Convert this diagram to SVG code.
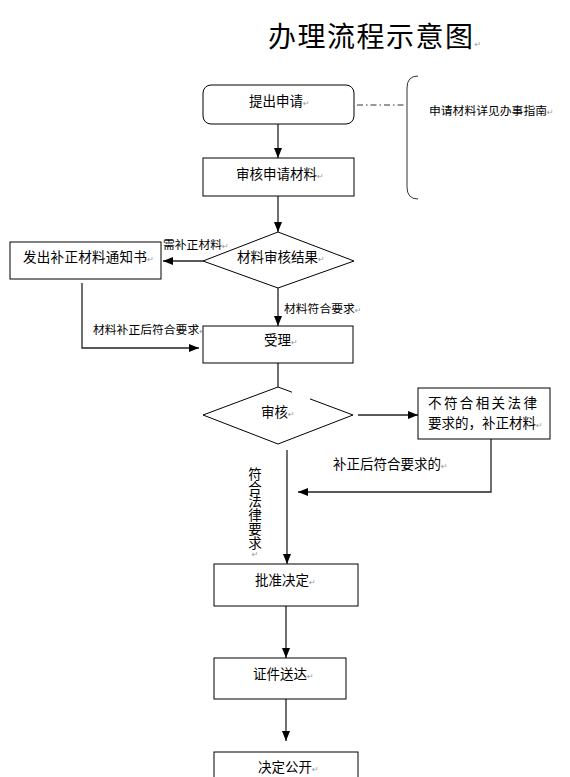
<svg xmlns="http://www.w3.org/2000/svg" width="570" height="777" viewBox="0 0 570 777">
<style>
  .box { fill: #fff; stroke: #000; stroke-width: 1; }
  .t { font-family: "Noto Sans CJK SC", "Noto Sans", sans-serif; font-size: 13.5px; fill: #000; }
  .s { font-family: "Noto Sans CJK SC", "Noto Sans", sans-serif; font-size: 11.8px; fill: #000; }
  .pm { font-family: "DejaVu Sans", sans-serif; font-size: 8px; fill: #999; }
  .ln { fill: none; stroke: #222; stroke-width: 1.3; }
  .title { font-family: "Noto Sans CJK SC", serif; font-size: 28px; fill: #000; letter-spacing: 1.5px; }
</style>
<defs>
  <marker id="ah" markerUnits="userSpaceOnUse" markerWidth="10" markerHeight="10" viewBox="0 0 10 10" refX="10" refY="5" orient="auto">
    <path d="M0,1 L10,5 L0,9 Z" fill="#000"/>
  </marker>
</defs>
<rect width="570" height="777" fill="#fff"/>

<text class="title" x="268" y="47">办理流程示意图<tspan class="pm" font-size="10px">↵</tspan></text>

<g id="connectors">
  <line class="ln" x1="278" y1="124" x2="278" y2="158" marker-end="url(#ah)"/>
  <line class="ln" x1="278" y1="196" x2="278" y2="232" marker-end="url(#ah)"/>
  <line class="ln" x1="203" y1="261" x2="163" y2="261" marker-end="url(#ah)"/>
  <line class="ln" x1="278" y1="288" x2="278" y2="326" marker-end="url(#ah)"/>
  <polyline class="ln" points="82,283 82,348 199,348" marker-end="url(#ah)"/>
  <line class="ln" x1="278" y1="363" x2="278" y2="387"/>
  <line class="ln" x1="358" y1="415" x2="418" y2="415" marker-end="url(#ah)"/>
  <polyline class="ln" points="491,439 491,492 298,492" marker-end="url(#ah)"/>
  <line class="ln" x1="287" y1="450" x2="287" y2="564" marker-end="url(#ah)"/>
  <line class="ln" x1="286" y1="606" x2="286" y2="658" marker-end="url(#ah)"/>
  <line class="ln" x1="286" y1="699" x2="286" y2="741" marker-end="url(#ah)"/>
  <line x1="357" y1="105" x2="406" y2="105" stroke="#333" stroke-width="1" stroke-dasharray="6,3,1.5,3"/>
  <text class="s" x="163" y="249">需补正材料<tspan class="pm">↵</tspan></text>
  <text class="s" x="284" y="313" font-size="11.5px">材料符合要求<tspan class="pm">↵</tspan></text>
  <text class="s" x="93" y="334">材料补正后符合要求<tspan class="pm">↵</tspan></text>
  <text class="t" x="333" y="469">补正后符合要求的<tspan class="pm">↵</tspan></text>
  <text class="t" x="255" y="467" font-size="13px" writing-mode="vertical-rl" style="text-orientation: upright;" letter-spacing="0.3px">符合法律要求<tspan class="pm">↵</tspan></text>
</g>

<g id="n-submit">
  <rect class="box" x="203" y="85" width="151" height="39" rx="8"/>
  <text class="t" x="249" y="106">提出申请<tspan class="pm">↵</tspan></text>
</g>

<g id="n-guide">
  <path d="M418,76 Q407,76 407,88 L407,187 Q407,199 418,199" fill="none" stroke="#333" stroke-width="1"/>
  <text class="s" x="429" y="115">申请材料详见办事指南<tspan class="pm">↵</tspan></text>
</g>

<g id="n-review-materials">
  <rect class="box" x="203" y="158" width="151" height="38"/>
  <text class="t" x="236" y="179">审核申请材料<tspan class="pm">↵</tspan></text>
</g>

<g id="n-result">
  <polygon class="box" points="278,232 354,261 278,288 203,261"/>
  <text class="t" x="237" y="262">材料审核结果<tspan class="pm">↵</tspan></text>
</g>

<g id="n-notice">
  <rect class="box" x="10" y="242" width="151" height="37"/>
  <text class="t" x="23" y="262" letter-spacing="0.3px">发出补正材料通知书<tspan class="pm">↵</tspan></text>
</g>

<g id="n-accept">
  <rect class="box" x="203" y="326" width="150" height="37"/>
  <text class="t" x="264" y="345">受理<tspan class="pm">↵</tspan></text>
</g>

<g id="n-audit">
  <path d="M310,398.9 L353,415 L278,444 L203,415 L278,387 L292,392.2" fill="#fff" stroke="#000" stroke-width="1"/>
  <text class="t" x="261" y="417">审核<tspan class="pm">↵</tspan></text>
</g>

<g id="n-nonconform">
  <rect class="box" x="418" y="388" width="132" height="51"/>
  <text class="t" x="428" y="408" letter-spacing="2.4px">不符合相关法律</text>
  <text class="t" x="428" y="428">要求的，补正材料<tspan class="pm">↵</tspan></text>
</g>

<g id="n-approve">
  <rect class="box" x="214" y="564" width="144" height="42"/>
  <text class="t" x="255" y="585">批准决定<tspan class="pm">↵</tspan></text>
</g>

<g id="n-deliver">
  <rect class="box" x="214" y="658" width="132" height="41"/>
  <text class="t" x="253" y="679">证件送达<tspan class="pm">↵</tspan></text>
</g>

<g id="n-publish">
  <rect class="box" x="214" y="752" width="144" height="40"/>
  <text class="t" x="258" y="772" font-size="13px">决定公开<tspan class="pm">↵</tspan></text>
</g>
</svg>
